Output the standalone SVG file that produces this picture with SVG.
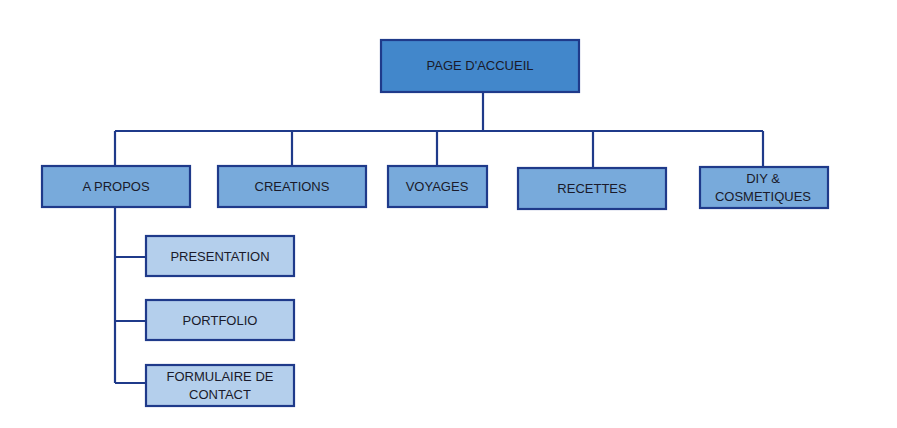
<svg xmlns="http://www.w3.org/2000/svg" width="897" height="428" viewBox="0 0 897 428">
<style>
rect{stroke:#1f3a8a;stroke-width:2.2}
.l0{fill:#4287cb}
.l1{fill:#78aadb}
.l2{fill:#b4cfec}
text{font-family:"Liberation Sans",Arial,sans-serif;font-size:13px;fill:#1a1a2a;text-anchor:middle}
.c path{fill:none;stroke:#1f3a8a;stroke-width:2.2}
</style>
<rect width="897" height="428" fill="#fff" style="stroke:none"/>
<g class="c" id="connectors">
<path d="M483 92V131M115 131H763M115 131V166M292 131V166M437 131V166M593 131V168M763 131V167"/>
<path d="M115 207V383M115 257H146M115 321H146M115 383H146"/>
</g>
<g id="accueil"><rect class="l0" x="381" y="40" width="198" height="52"/><text x="480" y="70">PAGE D'ACCUEIL</text></g>
<g id="apropos"><rect class="l1" x="42" y="166" width="148" height="41"/><text x="116" y="191">A PROPOS</text></g>
<g id="creations"><rect class="l1" x="218" y="166" width="148" height="41"/><text x="292" y="191">CREATIONS</text></g>
<g id="voyages"><rect class="l1" x="388" y="166" width="99" height="41"/><text x="437" y="191">VOYAGES</text></g>
<g id="recettes"><rect class="l1" x="518" y="168" width="148" height="41"/><text x="592" y="193">RECETTES</text></g>
<g id="diy"><rect class="l1" x="700" y="167" width="128" height="41"/><text x="763" y="183">DIY &amp;</text><text x="763" y="201">COSMETIQUES</text></g>
<g id="presentation"><rect class="l2" x="146" y="236" width="148" height="40"/><text x="220" y="261">PRESENTATION</text></g>
<g id="portfolio"><rect class="l2" x="146" y="300" width="148" height="40"/><text x="220" y="325">PORTFOLIO</text></g>
<g id="formulaire"><rect class="l2" x="146" y="365" width="148" height="41"/><text x="220" y="381">FORMULAIRE DE</text><text x="220" y="399">CONTACT</text></g>
</svg>
